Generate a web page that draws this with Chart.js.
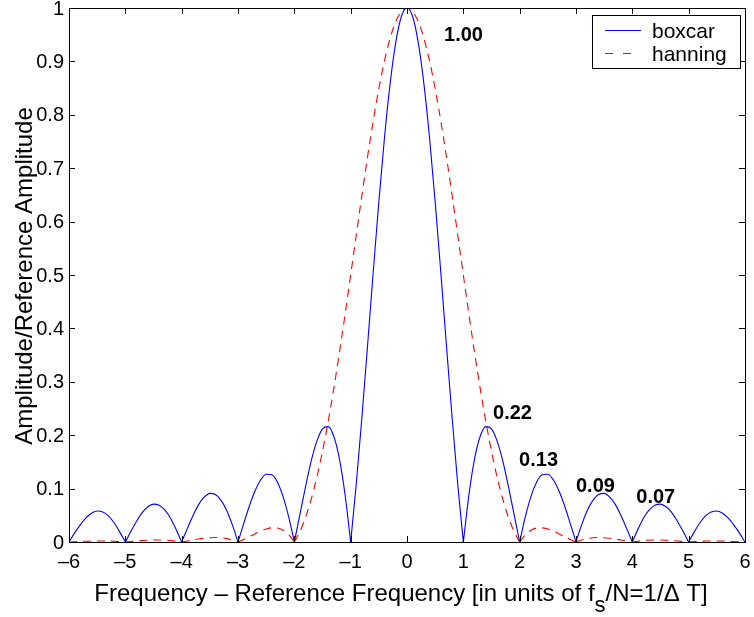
<!DOCTYPE html>
<html>
<head>
<meta charset="utf-8">
<title>Window spectra</title>
<script src="https://cdn.jsdelivr.net/npm/chart.js@4.4.1/dist/chart.umd.min.js"></script>
<style>
    html, body { margin: 0; padding: 0; background: #fff; }
    #wrap { width: 754px; height: 617px; }
</style>
</head>
<body>
<div id="wrap"><canvas id="spectrumChart" width="754" height="617"></canvas></div>
<script>
// Frequency offset, in bins (f_s/N)
const frequencies = [
    -6.0, -5.9, -5.8, -5.7, -5.6, -5.5, -5.4, -5.3, -5.2, -5.1,
    -5.0, -4.9, -4.8, -4.7, -4.6, -4.5, -4.4, -4.3, -4.2, -4.1,
    -4.0, -3.9, -3.8, -3.7, -3.6, -3.5, -3.4, -3.3, -3.2, -3.1,
    -3.0, -2.9, -2.8, -2.7, -2.6, -2.5, -2.4, -2.3, -2.2, -2.1,
    -2.0, -1.9, -1.8, -1.7, -1.6, -1.5, -1.4, -1.3, -1.2, -1.1,
    -1.0, -0.9, -0.8, -0.7, -0.6, -0.5, -0.4, -0.3, -0.2, -0.1,
    0.0, 0.1, 0.2, 0.3, 0.4, 0.5, 0.6, 0.7, 0.8, 0.9,
    1.0, 1.1, 1.2, 1.3, 1.4, 1.5, 1.6, 1.7, 1.8, 1.9,
    2.0, 2.1, 2.2, 2.3, 2.4, 2.5, 2.6, 2.7, 2.8, 2.9,
    3.0, 3.1, 3.2, 3.3, 3.4, 3.5, 3.6, 3.7, 3.8, 3.9,
    4.0, 4.1, 4.2, 4.3, 4.4, 4.5, 4.6, 4.7, 4.8, 4.9,
    5.0, 5.1, 5.2, 5.3, 5.4, 5.5, 5.6, 5.7, 5.8, 5.9,
    6.0
];

// Rectangular window response
const boxcar = [
    0, 0.017, 0.032, 0.045, 0.054, 0.058, 0.056, 0.049, 0.036, 0.019,
    0, 0.020, 0.039, 0.055, 0.066, 0.071, 0.069, 0.060, 0.045, 0.024,
    0, 0.025, 0.049, 0.070, 0.084, 0.091, 0.089, 0.078, 0.059, 0.032,
    0, 0.034, 0.067, 0.095, 0.116, 0.127, 0.126, 0.112, 0.085, 0.047,
    0, 0.052, 0.104, 0.152, 0.189, 0.212, 0.216, 0.198, 0.156, 0.089,
    0, 0.109, 0.234, 0.368, 0.505, 0.637, 0.757, 0.858, 0.935, 0.984,
    1.000, 0.984, 0.935, 0.858, 0.757, 0.637, 0.505, 0.368, 0.234, 0.109,
    0, 0.089, 0.156, 0.198, 0.216, 0.212, 0.189, 0.152, 0.104, 0.052,
    0, 0.047, 0.085, 0.112, 0.126, 0.127, 0.116, 0.095, 0.067, 0.034,
    0, 0.032, 0.059, 0.078, 0.089, 0.091, 0.084, 0.070, 0.049, 0.025,
    0, 0.024, 0.045, 0.060, 0.069, 0.071, 0.066, 0.055, 0.039, 0.020,
    0, 0.019, 0.036, 0.049, 0.056, 0.058, 0.054, 0.045, 0.032, 0.017,
    0
];

// Hanning window response
const hanning = [
    0, 0.0005, 0.0010, 0.0014, 0.0018, 0.0020, 0.0020, 0.0018, 0.0014, 0.0008,
    0, 0.0009, 0.0018, 0.0026, 0.0033, 0.0037, 0.0037, 0.0034, 0.0027, 0.0015,
    0, 0.0018, 0.0037, 0.0055, 0.0070, 0.0081, 0.0084, 0.0079, 0.0063, 0.0037,
    0, 0.0046, 0.0098, 0.0152, 0.0202, 0.0242, 0.0265, 0.0261, 0.0221, 0.0137,
    0, 0.0198, 0.0464, 0.0802, 0.1213, 0.1698, 0.2252, 0.2871, 0.3543, 0.4257,
    0.500, 0.5753, 0.6497, 0.7214, 0.7884, 0.8488, 0.9010, 0.9433, 0.9745, 0.9935,
    1.000, 0.9935, 0.9745, 0.9433, 0.9010, 0.8488, 0.7884, 0.7214, 0.6497, 0.5753,
    0.500, 0.4257, 0.3543, 0.2871, 0.2252, 0.1698, 0.1213, 0.0802, 0.0464, 0.0198,
    0, 0.0137, 0.0221, 0.0261, 0.0265, 0.0242, 0.0202, 0.0152, 0.0098, 0.0046,
    0, 0.0037, 0.0063, 0.0079, 0.0084, 0.0081, 0.0070, 0.0055, 0.0037, 0.0018,
    0, 0.0015, 0.0027, 0.0034, 0.0037, 0.0037, 0.0033, 0.0026, 0.0018, 0.0009,
    0, 0.0008, 0.0014, 0.0018, 0.0020, 0.0020, 0.0018, 0.0014, 0.0010, 0.0005,
    0
];

const xTicks = [-6, -5, -4, -3, -2, -1, 0, 1, 2, 3, 4, 5, 6];
const yTicks = [0, 0.1, 0.2, 0.3, 0.4, 0.5, 0.6, 0.7, 0.8, 0.9, 1];
const xTickLabels = ['\u20136', '\u20135', '\u20134', '\u20133', '\u20132', '\u20131', '0', '1', '2', '3', '4', '5', '6'];
const yTickLabels = ['0', '0.1', '0.2', '0.3', '0.4', '0.5', '0.6', '0.7', '0.8', '0.9', '1'];

// Boxcar lobe peaks that get a value label (index into frequencies)
const peakIndex = [60, 74, 85, 95, 105];
// Where each peak label sits (left edge, middle), in data units
const peakLabelAt = [[0.657, 0.95], [1.527, 0.2425], [1.99, 0.1536], [3.0, 0.105], [4.07, 0.086]];

const FONT = '"Liberation Sans", Arial, Helvetica, sans-serif';

const series = [
    {label: 'boxcar', values: boxcar, color: '#0000ff', dash: []},
    {label: 'hanning', values: hanning, color: '#ff0000', dash: [8, 6]}
];

// Split a curve into its lobes (zeros shared) so each lobe is smoothed
// on its own and the nulls stay sharp.
function lobes(ys) {
    const out = [];
    let cur = [];
    ys.forEach((y, i) => {
        cur.push({x: frequencies[i], y: y});
        if (y === 0 && cur.length > 1) {
            out.push(cur);
            cur = [{x: frequencies[i], y: 0}];
        }
    });
    if (cur.length > 1) out.push(cur);
    return out;
}

const datasets = [];
series.forEach(s => {
    lobes(s.values).forEach(pts => {
        datasets.push({
            label: s.label,
            data: pts,
            borderColor: s.color,
            borderWidth: 1.1,
            borderDash: s.dash,
            pointRadius: 0,
            cubicInterpolationMode: 'monotone'
        });
    });
});

// Box, inward ticks, tick labels, legend, value labels and axis titles
const matlabFrame = {
    id: 'matlabFrame',
    afterDraw(chart) {
        const ctx = chart.ctx;
        const a = chart.chartArea;
        const xs = chart.scales.x;
        const ys = chart.scales.y;
        const tl = 6;

        ctx.save();
        ctx.strokeStyle = '#000';
        ctx.lineWidth = 1;
        ctx.strokeRect(Math.round(a.left) + 0.5, Math.round(a.top) + 0.5,
            Math.round(a.right - a.left), Math.round(a.bottom - a.top));

        ctx.beginPath();
        xTicks.forEach(v => {
            const px = Math.round(xs.getPixelForValue(v)) + 0.5;
            ctx.moveTo(px, a.bottom); ctx.lineTo(px, a.bottom - tl);
            ctx.moveTo(px, a.top); ctx.lineTo(px, a.top + tl);
        });
        yTicks.forEach(v => {
            const py = Math.round(ys.getPixelForValue(v)) + 0.5;
            ctx.moveTo(a.left, py); ctx.lineTo(a.left + tl, py);
            ctx.moveTo(a.right, py); ctx.lineTo(a.right - tl, py);
        });
        ctx.stroke();

        // tick labels
        ctx.fillStyle = '#000';
        ctx.font = '20px ' + FONT;
        ctx.textAlign = 'center';
        ctx.textBaseline = 'alphabetic';
        xTicks.forEach((v, i) => {
            ctx.fillText(xTickLabels[i], xs.getPixelForValue(v), a.bottom + 26);
        });
        ctx.textAlign = 'right';
        ctx.textBaseline = 'middle';
        yTicks.forEach((v, i) => {
            ctx.fillText(yTickLabels[i], a.left - 5, ys.getPixelForValue(v) + 1);
        });

        // peak value labels
        ctx.font = 'bold 20px ' + FONT;
        ctx.textAlign = 'left';
        ctx.textBaseline = 'middle';
        peakIndex.forEach((idx, k) => {
            const pos = peakLabelAt[k];
            ctx.fillText(boxcar[idx].toFixed(2),
                xs.getPixelForValue(pos[0]), ys.getPixelForValue(pos[1]) + 1);
        });

        // legend
        const lx = 592, ly = 15, lw = 148, lh = 53;
        ctx.fillStyle = '#fff';
        ctx.fillRect(lx, ly, lw, lh);
        ctx.strokeStyle = '#000';
        ctx.strokeRect(lx + 0.5, ly + 0.5, lw, lh);
        ctx.font = '21px ' + FONT;
        ctx.textBaseline = 'alphabetic';
        series.forEach((s, i) => {
            const yy = ly + 15 + i * 23;
            ctx.strokeStyle = s.color;
            ctx.lineWidth = 1.1;
            ctx.setLineDash(s.dash.length ? [8, 10] : []);
            ctx.beginPath();
            ctx.moveTo(605, yy + 0.5);
            ctx.lineTo(641, yy + 0.5);
            ctx.stroke();
            ctx.setLineDash([]);
            ctx.fillStyle = '#000';
            ctx.fillText(s.label, 652, yy + 7.5);
        });

        // x axis title with subscript s
        const parts = [
            {t: 'Frequency \u2013 Reference Frequency [in units of f', f: '24px ' + FONT, dy: 0},
            {t: 's', f: '22px ' + FONT, dy: 11},
            {t: '/N=1/\u0394 T]', f: '24px ' + FONT, dy: 0}
        ];
        let total = 0;
        parts.forEach(p => { ctx.font = p.f; p.w = ctx.measureText(p.t).width; total += p.w; });
        let cx = 401 - total / 2;
        ctx.textAlign = 'left';
        ctx.fillStyle = '#000';
        parts.forEach(p => {
            ctx.font = p.f;
            ctx.fillText(p.t, cx, 601 + p.dy);
            cx += p.w;
        });

        // y axis title
        ctx.translate(32, 276);
        ctx.rotate(-Math.PI / 2);
        ctx.font = '24px ' + FONT;
        ctx.textAlign = 'center';
        ctx.fillText('Amplitude/Reference Amplitude', 0, 0);
        ctx.restore();
    }
};

const chart = new Chart(document.getElementById('spectrumChart').getContext('2d'), {
    type: 'line',
    data: { datasets: datasets },
    options: {
        responsive: false,
        animation: false,
        events: [],
        layout: { padding: { top: 8, right: 9, left: 0, bottom: 0 } },
        plugins: {
            legend: { display: false },
            tooltip: { enabled: false }
        },
        scales: {
            x: {
                type: 'linear',
                min: -6,
                max: 6,
                grid: { display: false, drawTicks: false },
                border: { display: false },
                ticks: { display: false },
                afterFit(scale) { scale.height = 75; }
            },
            y: {
                min: 0,
                max: 1,
                grid: { display: false, drawTicks: false },
                border: { display: false },
                ticks: { display: false },
                afterFit(scale) { scale.width = 69; }
            }
        }
    },
    plugins: [matlabFrame]
});
</script>
</body>
</html>
